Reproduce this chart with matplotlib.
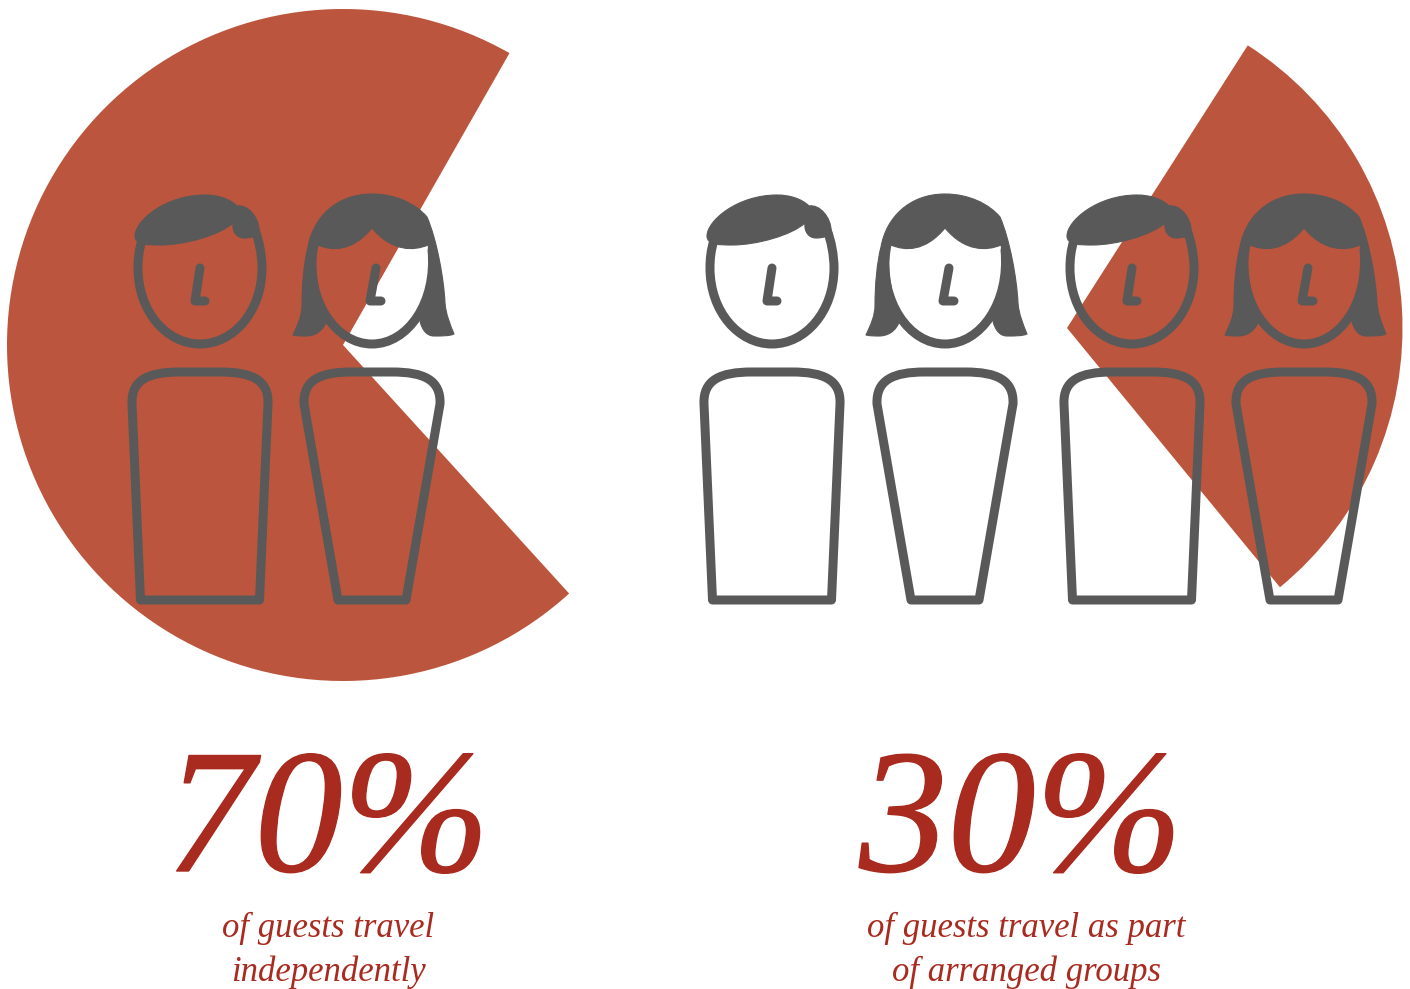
import matplotlib
matplotlib.use("Agg")
import matplotlib.pyplot as plt
import matplotlib.patheffects as pe
from matplotlib.patches import Wedge, PathPatch
from matplotlib.path import Path

# Share of guests by travel type
shares = [70, 30]
share_labels = ["70%", "30%"]
captions = ["of guests travel\nindependently", "of guests travel as part\nof arranged groups"]

GREY = "#595959"
WEDGE = "#BC553D"
TEXT = "#A92A1F"
STROKE = 9 * 0.72

fig = plt.figure(figsize=(14.10, 9.89), dpi=100)
ax = fig.add_axes([0, 0, 1, 1])
ax.set_xlim(0, 1410)
ax.set_ylim(989, 0)
ax.axis("off")

# Pie sectors: centre x, centre y, radius, on-screen direction of the middle of the sector
sectors = [(343, 345, 336, 186.3), (1067, 328, 335.5, 3.4)]
for share, (cx, cy, r, mid) in zip(shares, sectors):
    sweep = share / 100 * 360
    # the y axis points down, so on-screen angles are negated
    ax.add_patch(Wedge((cx, cy), r, -(mid + sweep / 2), -(mid - sweep / 2),
                       facecolor=WEDGE, edgecolor="none", zorder=1))


def make_path(start, curves, close=False):
    verts = [start]
    codes = [Path.MOVETO]
    for seg in curves:
        verts.extend(seg)
        codes.extend([Path.CURVE4] * 3 if len(seg) == 3 else [Path.LINETO])
    if close:
        verts.append(start)
        codes.append(Path.CLOSEPOLY)
    return Path(verts, codes)


def shifted(path, dx):
    return Path(path.vertices + [dx, 0], path.codes)


MAN_HAIR = make_path((-65, 236), [
    [(-65, 221), (-35, 195), (5, 195)],
    [(18, 195), (30, 199), (37, 206)],
    [(48, 204), (59, 218), (59, 230)],
    [(58, 236), (52, 238), (44, 238)],
    [(37, 238), (32, 232), (33, 223)],
    [(20, 235), (-15, 245), (-40, 245)],
    [(-52, 245), (-65, 245), (-65, 236)],
], close=True)
MAN_FACE = make_path((-58, 240), [
    [(-61, 250), (-62, 258), (-62, 268)],
    [(-62, 312), (-33, 344), (0, 344)],
    [(33, 344), (62, 312), (62, 268)],
    [(62, 255), (59, 240), (55, 230)],
])
MAN_NOSE = make_path((0, 268), [[(-5, 301)], [(5, 301)]])
MAN_BODY = make_path((-59.5, 600), [
    [(-68, 404)],
    [(-69, 380), (-52, 372), (-20, 372)],
    [(20, 372)],
    [(52, 372), (69, 380), (68, 404)],
    [(59.5, 600)],
    [(-59.5, 600)],
], close=True)

WOMAN_HAIR = make_path((-79, 335), [
    [(-74, 324), (-70, 316), (-70, 305)],
    [(-70, 285), (-68, 262), (-64, 247)],
    [(-59, 218), (-36, 194), (0, 194)],
    [(24, 194), (44, 204), (55, 217)],
    [(65, 240), (72, 280), (73, 303)],
    [(74, 315), (78, 324), (82, 334)],
    [(78, 336), (70, 336), (62, 336)],
    [(55, 336), (50, 330), (48, 321)],
    [(56, 300), (60, 280), (58, 262)],
    [(58, 256), (57, 250), (56, 245)],
    [(42, 251), (20, 252), (0, 228)],
    [(-20, 252), (-40, 251), (-54, 245)],
    [(-58, 262), (-57, 285), (-45, 320)],
    [(-49, 332), (-58, 336), (-66, 336)],
    [(-70, 336), (-75, 336), (-79, 335)],
], close=True)
WOMAN_FACE = make_path((-60, 250), [
    [(-65, 302), (-36, 344), (0, 344)],
    [(36, 344), (65, 302), (60, 250)],
])
WOMAN_NOSE = make_path((4, 268), [[(-2, 301)], [(9, 301)]])
WOMAN_BODY = make_path((-34, 600), [
    [(-68, 404)],
    [(-69, 380), (-52, 372), (-20, 372)],
    [(20, 372)],
    [(52, 372), (69, 380), (68, 404)],
    [(34, 600)],
    [(-34, 600)],
], close=True)


def outline(path):
    ax.add_patch(PathPatch(path, facecolor="none", edgecolor=GREY, linewidth=STROKE,
                           capstyle="round", joinstyle="round", zorder=3))


def solid(path):
    ax.add_patch(PathPatch(path, facecolor=GREY, edgecolor=GREY, linewidth=0.8,
                           joinstyle="round", zorder=4))


def draw_person(cx, hair, face, nose, body):
    solid(shifted(hair, cx))
    for part in (face, nose, body):
        outline(shifted(part, cx))


for cx in (200, 772, 1132):
    draw_person(cx, MAN_HAIR, MAN_FACE, MAN_NOSE, MAN_BODY)
for cx in (372, 945, 1304):
    draw_person(cx, WOMAN_HAIR, WOMAN_FACE, WOMAN_NOSE, WOMAN_BODY)

# Headline figures and their captions
for label, caption, x_big, x_small in zip(share_labels, captions, (328, 1021), (328, 1026)):
    ax.text(x_big, 871, label, family="Liberation Serif", style="italic", color=TEXT,
            fontsize=127, ha="center", va="baseline", zorder=5,
            path_effects=[pe.withStroke(linewidth=1.0, foreground=TEXT)])
    line1, line2 = caption.split("\n")
    ax.text(x_small, 937, line1, family="Liberation Serif", style="italic", color=TEXT,
            fontsize=25, ha="center", va="baseline", zorder=5)
    ax.text(x_small, 981, line2, family="Liberation Serif", style="italic", color=TEXT,
            fontsize=25, ha="center", va="baseline", zorder=5)

fig.savefig("out.png", dpi=100, facecolor="white")
